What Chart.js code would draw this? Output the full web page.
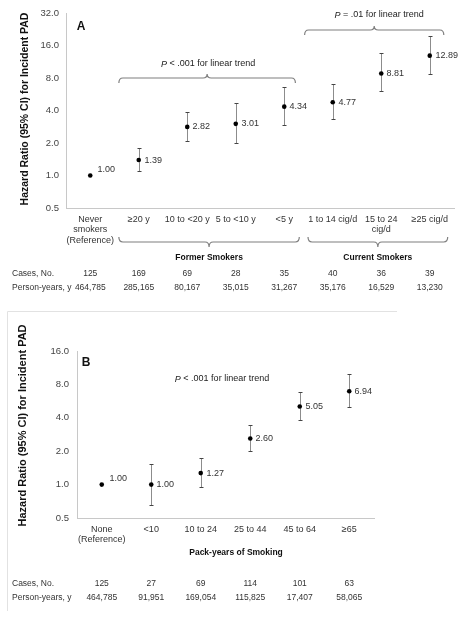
<!DOCTYPE html>
<html>
<head>
<meta charset="utf-8">
<script src="https://cdn.jsdelivr.net/npm/chart.js@4"></script>
<style>
  body { margin: 0; background: #fff; }
  #wrap { position: relative; width: 466px; height: 618px; }
  canvas { position: absolute; left: 0; }
</style>
</head>
<body>
<div id="wrap">
  <canvas id="chartA" width="466" height="311" style="top:0"></canvas>
  <canvas id="chartB" width="466" height="307" style="top:311px"></canvas>
</div>
<script>
// Panel A : smoking status
const catsA = [["Never", "smokers", "(Reference)"], "≥20 y", "10 to <20 y", "5 to <10 y", "<5 y", "1 to 14 cig/d", ["15 to 24", "cig/d"], "≥25 cig/d"];
const hrA = [1.00, 1.39, 2.82, 3.01, 4.34, 4.77, 8.81, 12.89];
const loA = [null, 1.09, 2.10, 1.98, 2.95, 3.32, 6.00, 8.75];
const hiA = [null, 1.78, 3.89, 4.71, 6.57, 7.07, 13.5, 19.8];
const casesA = ["125", "169", "69", "28", "35", "40", "36", "39"];
const pyA = ["464,785", "285,165", "80,167", "35,015", "31,267", "35,176", "16,529", "13,230"];
const ticksA = [0.5, 1, 2, 4, 8, 16, 32];

// Panel B : pack-years
const catsB = [["None", "(Reference)"], "<10", "10 to 24", "25 to 44", "45 to 64", "≥65"];
const hrB = [1.00, 1.00, 1.27, 2.60, 5.05, 6.94];
const loB = [null, 0.66, 0.95, 1.99, 3.85, 5.05];
const hiB = [null, 1.54, 1.74, 3.42, 6.85, 9.93];
const casesB = ["125", "27", "69", "114", "101", "63"];
const pyB = ["464,785", "91,951", "169,054", "115,825", "17,407", "58,065"];
const ticksB = [0.5, 1, 2, 4, 8, 16];

const FONT = "'Liberation Sans', Arial, sans-serif";
Chart.defaults.font.family = FONT;
Chart.defaults.color = "#333";

// accolade horizontale (e = sens des extrémités, tip = hauteur de la pointe)
function drawBracket(ctx, x1, x2, y, e, tip) {
  const xm = (x1 + x2) / 2;
  ctx.save();
  ctx.strokeStyle = "#7f7f7f";
  ctx.lineWidth = 1.2;
  ctx.beginPath();
  ctx.moveTo(x1, y + e * 5);
  ctx.quadraticCurveTo(x1, y, x1 + 4, y);
  ctx.lineTo(xm - 4, y);
  ctx.quadraticCurveTo(xm, y, xm, y - e * tip);
  ctx.quadraticCurveTo(xm, y, xm + 4, y);
  ctx.lineTo(x2 - 4, y);
  ctx.quadraticCurveTo(x2, y, x2, y + e * 5);
  ctx.stroke();
  ctx.restore();
}

function pText(ctx, rest, cx, y) {
  ctx.save();
  ctx.fillStyle = "#222";
  ctx.font = "italic 9px " + FONT;
  const wp = ctx.measureText("P").width;
  ctx.font = "9px " + FONT;
  const wr = ctx.measureText(rest).width;
  const x = cx - (wp + wr) / 2;
  ctx.textAlign = "left";
  ctx.textBaseline = "middle";
  ctx.font = "italic 9px " + FONT;
  ctx.fillText("P", x, y);
  ctx.font = "9px " + FONT;
  ctx.fillText(rest, x + wp, y);
  ctx.restore();
}

function text(ctx, s, x, y, font, align, color) {
  ctx.save();
  ctx.font = font;
  ctx.fillStyle = color || "#333";
  ctx.textAlign = align || "center";
  ctx.textBaseline = "middle";
  ctx.fillText(s, x, y);
  ctx.restore();
}

function yTitle(ctx, s, cx, cy, size) {
  ctx.save();
  ctx.translate(cx, cy);
  ctx.rotate(-Math.PI / 2);
  text(ctx, s, 0, 0, "bold " + size + "px " + FONT, "center", "#111");
  ctx.restore();
}

function table(chart, cases, py, y1, y2) {
  const ctx = chart.ctx, x = chart.scales.x;
  const f = "8.5px " + FONT;
  text(ctx, "Cases, No.", 12, y1, f, "left");
  text(ctx, "Person-years, y", 12, y2, f, "left");
  cases.forEach((c, i) => text(ctx, c, x.getPixelForValue(i), y1, f));
  py.forEach((c, i) => text(ctx, c, x.getPixelForValue(i), y2, f));
}

// barres d'erreur + étiquettes de valeur
function errorPlugin(lo, hi) {
  return {
    id: "errorBars",
    beforeDatasetsDraw(chart) {
      const { ctx, scales: { x, y } } = chart;
      const hr = chart.data.datasets[0].data;
      ctx.save();
      hr.forEach((v, i) => {
        const px = Math.round(x.getPixelForValue(i)) + 0.5;
        const py = y.getPixelForValue(v);
        if (lo[i] != null) {
          const yl = Math.round(y.getPixelForValue(lo[i])) + 0.5;
          const yh = Math.round(y.getPixelForValue(hi[i])) + 0.5;
          ctx.lineWidth = 1;
          ctx.strokeStyle = "#8c8c8c";
          ctx.beginPath();
          ctx.moveTo(px, yh);
          ctx.lineTo(px, yl);
          ctx.stroke();
          ctx.strokeStyle = "#444";
          ctx.beginPath();
          ctx.moveTo(px - 2, yh); ctx.lineTo(px + 2, yh);
          ctx.moveTo(px - 2, yl); ctx.lineTo(px + 2, yl);
          ctx.stroke();
        }
        const noCi = lo[i] == null;
        text(ctx, v.toFixed(2), px + (noCi ? 7 : 5), py - (noCi ? 6 : 0), "9px " + FONT, "left", "#333");
      });
      ctx.restore();
    }
  };
}

function build(id, cats, hr, lo, hi, yTicks, lay, deco) {
  return new Chart(document.getElementById(id), {
    type: "line",
    data: {
      labels: cats,
      datasets: [{
        data: hr,
        showLine: false,
        pointRadius: 2.3,
        pointBackgroundColor: "#000",
        pointBorderWidth: 0,
        pointHoverRadius: 0
      }]
    },
    options: {
      responsive: false,
      animation: false,
      events: [],
      layout: { padding: { left: 0, right: lay.right, top: lay.top, bottom: 0 } },
      plugins: { legend: { display: false }, tooltip: { enabled: false } },
      scales: {
        x: {
          type: "category",
          offset: true,
          grid: { display: false, drawTicks: false },
          border: { color: "#c8c8c8" },
          ticks: { font: { size: 9, lineHeight: 1.17 }, color: "#333", padding: 6, maxRotation: 0, minRotation: 0, autoSkip: false },
          afterFit(s) { s.height = lay.xh; }
        },
        y: {
          type: "logarithmic",
          min: yTicks[0],
          max: yTicks[yTicks.length - 1],
          grid: { display: false, drawTicks: false },
          border: { color: "#c8c8c8" },
          ticks: { font: { size: 9.5 }, color: "#444", padding: lay.yp, callback: v => Number(v).toFixed(1) },
          afterBuildTicks(s) { s.ticks = yTicks.map(v => ({ value: v })); },
          afterFit(s) { s.width = lay.left; }
        }
      }
    },
    plugins: [errorPlugin(lo, hi), { id: "deco", afterDraw: deco }]
  });
}

build("chartA", catsA, hrA, loA, hiA, ticksA, { left: 66, right: 12, top: 13, xh: 103, yp: 7 }, chart => {
  const ctx = chart.ctx, x = chart.scales.x;
  const step = x.getPixelForValue(1) - x.getPixelForValue(0);
  text(ctx, "A", 81, 27, "bold 12px " + FONT, "center", "#111");
  yTitle(ctx, "Hazard Ratio (95% CI) for Incident PAD", 25.5, 109, 10.5);

  const f1 = x.getPixelForValue(1) - 0.41 * step, f2 = x.getPixelForValue(4) + 0.23 * step;
  drawBracket(ctx, f1, f2, 78, 1, 4);
  pText(ctx, " < .001 for linear trend", (f1 + f2) / 2 + 1, 64);

  const c1 = x.getPixelForValue(5) - 0.58 * step, c2 = x.getPixelForValue(7) + 0.29 * step;
  drawBracket(ctx, c1, c2, 30, 1, 4);
  pText(ctx, " = .01 for linear trend", (c1 + c2) / 2 + 5, 15);

  const b1 = x.getPixelForValue(1) - 0.41 * step, b2 = x.getPixelForValue(4) + 0.31 * step;
  drawBracket(ctx, b1, b2, 242, -1, 5);
  text(ctx, "Former Smokers", (b1 + b2) / 2, 258, "bold 8.5px " + FONT, "center", "#111");
  const d1 = x.getPixelForValue(5) - 0.51 * step, d2 = x.getPixelForValue(7) + 0.37 * step;
  drawBracket(ctx, d1, d2, 242, -1, 5);
  text(ctx, "Current Smokers", (d1 + d2) / 2, 258, "bold 8.5px " + FONT, "center", "#111");

  table(chart, casesA, pyA, 274, 288);
});

build("chartB", catsB, hrB, loB, hiB, ticksB, { left: 77, right: 92, top: 40, xh: 100, yp: 8 }, chart => {
  const ctx = chart.ctx;
  ctx.save();
  ctx.strokeStyle = "#e2e2e2";
  ctx.lineWidth = 1;
  ctx.beginPath();
  ctx.moveTo(7.5, 300); ctx.lineTo(7.5, 0.5); ctx.lineTo(397, 0.5);
  ctx.stroke();
  ctx.restore();

  text(ctx, "B", 86, 52, "bold 12px " + FONT, "center", "#111");
  yTitle(ctx, "Hazard Ratio (95% CI) for Incident PAD", 23, 114.5, 11);
  pText(ctx, " < .001 for linear trend", 222, 68);
  text(ctx, "Pack-years of Smoking", 236, 242, "bold 8.5px " + FONT, "center", "#111");
  table(chart, casesB, pyB, 273, 287);
});
</script>
</body>
</html>
